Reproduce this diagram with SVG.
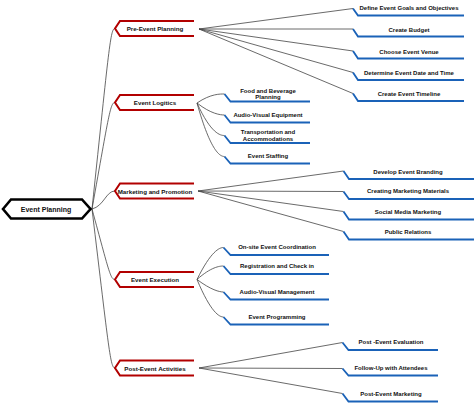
<svg xmlns="http://www.w3.org/2000/svg" width="474" height="403" viewBox="0 0 474 403">
<style>
text{font-family:"Liberation Sans",Arial,sans-serif;font-weight:bold;fill:#111;text-anchor:middle;dominant-baseline:central}
.root{font-size:7px}
.br{font-size:6.2px}
.lf{font-size:6px}
.rootshape{fill:#fff;stroke:#000;stroke-width:2.6;stroke-linejoin:miter}
.branch{fill:none;stroke:#b20000;stroke-width:2}
.leaf{fill:none;stroke:#1a62b8;stroke-width:1.8}
.conn path{fill:none;stroke:#444;stroke-width:0.8}
</style>
<rect width="474" height="403" fill="#fff"/>
<g id="connectors" class="conn">
<path d="M92,209 C109.2,46.5 110.4,28.5 115,28.5"/>
<path d="M92,209 C109.2,113 110.4,102.5 115,102.5"/>
<path d="M92,209 C104,206 106,191 115,191"/>
<path d="M92,209 C109.2,272 110.4,279.5 115,279.5"/>
<path d="M92,209 C109.2,352 110.4,368 115,368"/>
<path d="M199,29 L353,8.5"/>
<path d="M199,29 L353,29"/>
<path d="M199,29 L353,51"/>
<path d="M199,29 L353,72.5"/>
<path d="M199,29 L353,93.5"/>
<path d="M197,103 C211,93.5 220.5,94 224.5,94"/>
<path d="M197,103 C211,114 220.5,115 224.5,115"/>
<path d="M197,103 C211,134 220.5,135.5 224.5,135.5"/>
<path d="M197,103 C211,153 220.5,156.5 224.5,156.5"/>
<path d="M198,191 L343.5,171"/>
<path d="M198,191 L343.5,191.5"/>
<path d="M198,191 L343.5,211.5"/>
<path d="M198,191 L343.5,231.5"/>
<path d="M197,279.5 C211,251 219.5,247.5 223.5,247.5"/>
<path d="M197,279.5 C211,267 219.5,266 223.5,266"/>
<path d="M197,279.5 C211,290 219.5,292 223.5,292"/>
<path d="M197,279.5 C211,313 219.5,317 223.5,317"/>
<path d="M199,368 L342.5,342.5"/>
<path d="M199,368 L342.5,368.5"/>
<path d="M199,368 L342.5,393.5"/>
</g>
<g id="root">
<polygon class="rootshape" points="3,209 11,199.5 82,199.5 90.5,209 82,218.5 11,218.5"/>
<text class="root" x="46" y="209">Event Planning</text>
</g>
<g id="pre-event">
<path class="branch" d="M194,21 L120,21 L115,28.5 L120,36 L194,36"/>
<text class="br" x="155" y="28.5">Pre-Event Planning</text>
</g>
<g id="logistics">
<path class="branch" d="M194,95 L120,95 L115,102.5 L120,110 L194,110"/>
<text class="br" x="155" y="102.5">Event Logitics</text>
</g>
<g id="marketing">
<path class="branch" d="M194,183.5 L120,183.5 L115,191 L120,198.5 L194,198.5"/>
<text class="br" x="155" y="191">Marketing and Promotion</text>
</g>
<g id="execution">
<path class="branch" d="M194,272 L120,272 L115,279.5 L120,287 L194,287"/>
<text class="br" x="155" y="279.5">Event Execution</text>
</g>
<g id="post-event">
<path class="branch" d="M194,360.5 L120,360.5 L115,368 L120,375.5 L194,375.5"/>
<text class="br" x="155" y="368">Post-Event Activities</text>
</g>
<g id="leaf-goals"><path class="leaf" d="M353,8.5 L358,15.5 L464,15.5"/><text class="lf" x="409" y="8">Define Event Goals and Objectives</text></g>
<g id="leaf-budget"><path class="leaf" d="M353,29 L358,36.5 L464,36.5"/><text class="lf" x="409" y="29.5">Create Budget</text></g>
<g id="leaf-venue"><path class="leaf" d="M353,51 L358,58.5 L464,58.5"/><text class="lf" x="409" y="51.5">Choose Event Venue</text></g>
<g id="leaf-date"><path class="leaf" d="M353,72.5 L358,80 L464,80"/><text class="lf" x="409" y="72.5">Determine Event Date and Time</text></g>
<g id="leaf-timeline"><path class="leaf" d="M353,93.5 L358,101 L464,101"/><text class="lf" x="409" y="93.7">Create Event Timeline</text></g>
<g id="leaf-food"><path class="leaf" d="M224.5,94 L230.5,101.5 L310,101.5"/><text class="lf" x="268" y="90.5">Food and Beverage</text><text class="lf" x="268" y="97.3">Planning</text></g>
<g id="leaf-av"><path class="leaf" d="M224.5,115 L230.5,122.5 L310,122.5"/><text class="lf" x="268" y="115">Audio-Visual Equipment</text></g>
<g id="leaf-transport"><path class="leaf" d="M224.5,135.5 L230.5,143 L310,143"/><text class="lf" x="268" y="132.3">Transportation and</text><text class="lf" x="268" y="139">Accommodations</text></g>
<g id="leaf-staffing"><path class="leaf" d="M224.5,156.5 L230.5,163.5 L310,163.5"/><text class="lf" x="268" y="156">Event Staffing</text></g>
<g id="leaf-branding"><path class="leaf" d="M343.5,171 L349,179 L474,179"/><text class="lf" x="408" y="171.5">Develop Event Branding</text></g>
<g id="leaf-materials"><path class="leaf" d="M343.5,191.5 L349,199 L474,199"/><text class="lf" x="408" y="191">Creating Marketing Materials</text></g>
<g id="leaf-social"><path class="leaf" d="M343.5,211.5 L349,219.5 L474,219.5"/><text class="lf" x="408" y="211.5">Social Media Marketing</text></g>
<g id="leaf-pr"><path class="leaf" d="M343.5,231.5 L349,239.5 L474,239.5"/><text class="lf" x="408" y="231.5">Public Relations</text></g>
<g id="leaf-onsite"><path class="leaf" d="M223.5,247.5 L230.5,255 L329,255"/><text class="lf" x="277" y="247">On-site Event Coordination</text></g>
<g id="leaf-registration"><path class="leaf" d="M223.5,266 L230.5,274 L329,274"/><text class="lf" x="277" y="265.7">Registration and Check in</text></g>
<g id="leaf-avmgmt"><path class="leaf" d="M223.5,292 L230.5,299.5 L329,299.5"/><text class="lf" x="277" y="291.7">Audio-Visual Management</text></g>
<g id="leaf-programming"><path class="leaf" d="M223.5,317 L230.5,324.5 L329,324.5"/><text class="lf" x="277" y="317">Event Programming</text></g>
<g id="leaf-evaluation"><path class="leaf" d="M342.5,342.5 L348.5,350 L438,350"/><text class="lf" x="391" y="342">Post -Event Evaluation</text></g>
<g id="leaf-followup"><path class="leaf" d="M342.5,368.5 L348.5,375.5 L438,375.5"/><text class="lf" x="391" y="368">Follow-Up with Attendees</text></g>
<g id="leaf-postmarketing"><path class="leaf" d="M342.5,393.5 L348.5,401.5 L438,401.5"/><text class="lf" x="391" y="394">Post-Event Marketing</text></g>
</svg>
